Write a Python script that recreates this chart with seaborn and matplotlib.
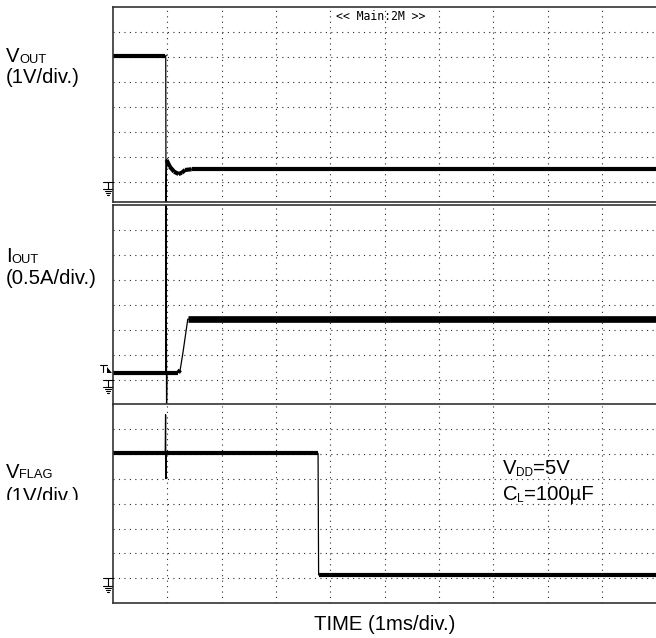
"""
Scope capture: VOUT / IOUT / VFLAG on an output short, three stacked panels.
Time base 1ms/div, values read off the screen grid.
"""
import numpy as np
import matplotlib
matplotlib.use("Agg")
import matplotlib.pyplot as plt
import seaborn as sns
from matplotlib.collections import LineCollection
from matplotlib.lines import Line2D
from matplotlib.patches import Polygon, Rectangle
from matplotlib.transforms import IdentityTransform

# ── data (time in ms from the left edge of the screen) ─────────────────────
VOUT_T = [0.0, 0.96, 0.975, 0.98, 0.99, 1.05, 1.13, 1.21, 1.27, 1.33, 1.45, 10.0]
VOUT_V = [5.03, 5.03, 5.0, -0.9, 0.87, 0.6, 0.4, 0.31, 0.36, 0.47, 0.5, 0.5]

IOUT_T = [0.0, 0.975, 0.982, 0.99, 0.998, 1.205, 1.24, 1.29, 1.38, 10.0]
IOUT_A = [0.145, 0.145, 3.8, -0.6, 0.145, 0.145, 0.2, 0.535, 1.215, 1.215]

VFLAG_T = [0.0, 0.965, 0.972, 0.978, 0.985, 3.775, 3.785, 10.0]
VFLAG_V = [5.02, 5.02, 6.57, 4.0, 5.02, 5.02, 0.14, 0.14]

sns.set_theme(style="white")
plt.rcParams["font.family"] = ["Liberation Sans", "DejaVu Sans"]

W, H = 656, 638
INK = "black"
GRID = "#2a2a2a"
FRAME = "#333333"
BIG, SMALL = 14.6, 9.3

fig = plt.figure(figsize=(W / 100, H / 100), dpi=100)
fig.patch.set_facecolor("white")
renderer = fig.canvas.get_renderer()


def px_axes(top, bottom, left=112.7, right=656.7):
    return fig.add_axes([left / W, 1 - bottom / H, (right - left) / W, (bottom - top) / H])


def flat_segments(t, y, per_div, max_slope=6.0):
    segs = []
    for t0, t1, y0, y1 in zip(t[:-1], t[1:], y[:-1], y[1:]):
        if abs(y1 - y0) / per_div / (t1 - t0) < max_slope:
            segs.append([(t0, y0), (t1, y1)])
    return segs


def scope_panel(ax, t, y, per_div, ylim, thick):
    ax.set_xlim(0, 10)
    ax.set_ylim(*ylim)
    ax.set_xticks(np.arange(1, 10))
    ax.set_yticks(np.arange(0, ylim[1] - 1e-6, per_div))
    ax.tick_params(length=0, labelbottom=False, labelleft=False)
    ax.grid(True, color=GRID, linewidth=0.8, linestyle=(0, (1, 3.9)))
    ax.set_axisbelow("line")
    for side, sp in ax.spines.items():
        sp.set_visible(side != "right")
        sp.set_color(FRAME)
        sp.set_linewidth(1.2)
    # thin trace for the edges, thick overlay for the noisy flat parts
    sns.lineplot(x=t, y=y, ax=ax, color=INK, linewidth=0.9,
                 estimator=None, sort=False, legend=False)
    segs = flat_segments(t, y, per_div)
    ax.add_collection(LineCollection(segs, colors=INK, capstyle="butt",
                                     joinstyle="miter",
                                     linewidths=[thick(s) for s in segs]))
    ax.set(xlabel="", ylabel="")


def ground_marker(ax):
    x0, y0 = ax.transData.transform((0, 0))
    bars = [((-9.4, 0), (0, 0)), ((-4.7, 0), (-4.7, 7.3)), ((-9.4, 7.3), (-0.5, 7.3)),
            ((-7.9, 9.3), (-1.5, 9.3)), ((-6.6, 11.3), (-2.8, 11.3)),
            ((-5.6, 13.3), (-3.8, 13.3))]
    for (xa, ya), (xb, yb) in bars:
        fig.add_artist(Line2D([x0 + xa, x0 + xb], [y0 - ya, y0 - yb],
                              transform=IdentityTransform(), color=INK, lw=0.8))


def label_runs(owner, x, y, runs, zorder=3):
    for s, size, dy in runs:
        txt = owner.text(x / W, 1 - (y + dy) / H, s, fontsize=size, ha="left",
                         va="baseline", color=INK, transform=fig.transFigure,
                         zorder=zorder)
        x = txt.get_window_extent(renderer).x1


ax1 = px_axes(6.7, 202.0)
ax2 = px_axes(205.0, 404.9)
ax3 = px_axes(404.0, 603.3)

scope_panel(ax1, VOUT_T, VOUT_V, 1.0, (-0.81, 7.0), lambda s: 3.0)
scope_panel(ax2, IOUT_T, IOUT_A, 0.5, (-0.5, 3.5),
            lambda s: 4.8 if s[0][1] > 1 else 3.0)
scope_panel(ax3, VFLAG_T, VFLAG_V, 1.0, (-1.0, 7.0), lambda s: 3.0)

for ax in (ax1, ax2, ax3):
    ground_marker(ax)

# trigger marker on the current channel
tx, ty = ax2.transData.transform((0, IOUT_A[0]))
fig.add_artist(Line2D([tx - 12.7, tx - 6], [ty + 7.8, ty + 7.8],
                      transform=IdentityTransform(), color=INK, lw=0.8))
fig.add_artist(Line2D([tx - 9.3, tx - 9.3], [ty + 7.8, ty + 1.1],
                      transform=IdentityTransform(), color=INK, lw=0.8))
fig.add_artist(Polygon([(tx - 5.4, ty + 6), (tx - 5.4, ty - 0.5), (tx - 0.5, ty - 0.5)],
                       closed=True, transform=IdentityTransform(), color=INK, lw=0))

ax1.text(380.5 / W, 1 - 17 / H, "<< Main:2M >>", family="DejaVu Sans Mono",
         fontsize=8.3, ha="center", va="center", color=INK,
         transform=fig.transFigure, zorder=1)

# channel labels
label_runs(fig, 6, 62.5, [("V", BIG, 0), ("OUT", SMALL, 0.5)])
label_runs(fig, 6, 83.3, [("(1V/div.)", BIG, 0)])
label_runs(fig, 6, 262.5, [("I", BIG, 0), ("OUT", SMALL, 0.5)])
label_runs(fig, 6, 283.5, [("(0.5A/div.)", BIG, 0)])
label_runs(fig, 6, 478.0, [("V", BIG, 0), ("FLAG", SMALL, 0.5)])
label_runs(fig, 6, 501.5, [("(1V/div.)", BIG, 0)])
fig.add_artist(Rectangle((0, 1 - 520 / H), 110 / W, (520 - 499.5) / H,
                         transform=fig.transFigure, facecolor="white",
                         edgecolor="none", zorder=10))

# test conditions
label_runs(ax3, 502.7, 474.0, [("V", BIG, 0), ("DD", 8.5, 1.5), ("=5V", BIG, 0)], zorder=1)
label_runs(ax3, 502.7, 500.0, [("C", BIG, 0), ("L", 8.5, 1.5), ("=100µF", BIG, 0)], zorder=1)

fig.text(384.7 / W, 1 - 630 / H, "TIME (1ms/div.)", fontsize=BIG, ha="center",
         va="baseline", color=INK)

fig.savefig("out.png", dpi=100)
